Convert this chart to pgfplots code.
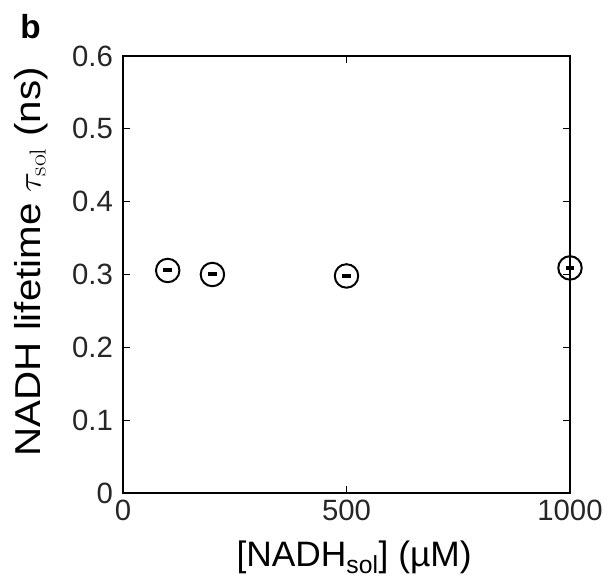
\documentclass[border=0pt]{standalone}
\usepackage{pgfplots}
\pgfplotsset{compat=1.18}
\usepackage[no-math]{fontspec}
\setmainfont{Liberation Sans}
\begin{document}
\begin{tikzpicture}
\path[use as bounding box] (0,0) rectangle (457.5pt,435.75pt);
\begin{axis}[
  at={(92.25pt,66pt)}, anchor=south west,
  scale only axis, width=335.25pt, height=327.75pt,
  xmin=0, xmax=1000, ymin=0, ymax=0.6,
  xtick={0,500,1000}, ytick={0,0.1,...,0.6},
  yticklabel style={/pgf/number format/fixed, /pgf/number format/precision=1},
  /pgf/number format/assume math mode=true,
  /pgf/number format/set thousands separator={},
  tick align=inside, major tick length=5pt,
  every tick/.style={black, line width=0.8pt},
  axis line style={line width=0.9pt},
  ticklabel style={font=\fontsize{22}{26}\selectfont, text=black!85},
  xticklabel style={yshift=-2pt},
  yticklabel style={xshift=-4pt},
  xlabel={[NADH\textsubscript{sol}] (µM)},
  ylabel={NADH lifetime $\tau_{\mathrm{sol}}$ (ns)},
  every axis x label/.style={at={(axis description cs:0.517,-0.148)}, anchor=center, font=\fontsize{26.5}{30}\selectfont},
  every axis y label/.style={at={(axis description cs:-0.205,0.529)}, anchor=center, rotate=90, xscale=1.12, font=\fontsize{27}{30}\selectfont},
  clip=false,
]
\addplot[only marks, mark=o, mark size=8.8pt, mark options={line width=1.5pt}, black]
  coordinates {(100,0.3055) (200,0.300) (500,0.298) (1000,0.309)};
\addplot[only marks, mark=-, mark size=3.3pt, mark options={line width=3pt}, black]
  coordinates {(100,0.3055) (200,0.300) (500,0.298) (1000,0.309)};
\end{axis}
\node[font=\fontsize{25}{29}\selectfont\bfseries, anchor=center] at (23pt,416pt) {b};
\end{tikzpicture}
\end{document}
